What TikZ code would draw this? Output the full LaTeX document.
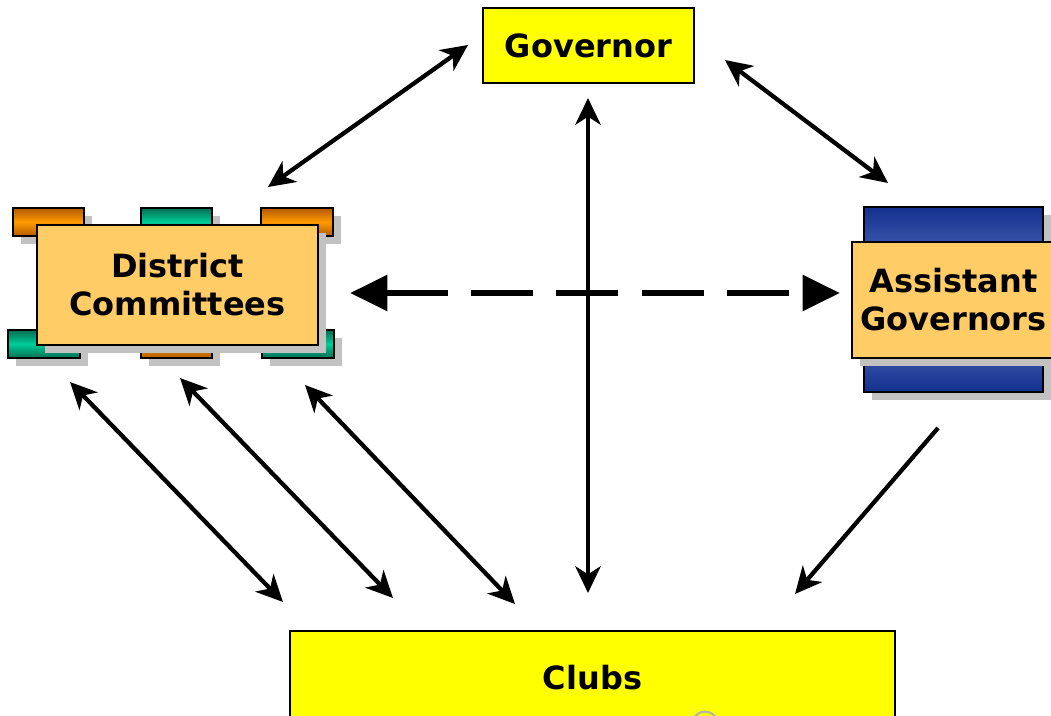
\documentclass[tikz,border=0pt]{standalone}
\usepackage{fontspec}
\setmainfont{DejaVu Sans}
\usetikzlibrary{arrows.meta,shadows}

\definecolor{govyellow}{HTML}{FFFF00}
\definecolor{boxorange}{HTML}{FFCC66}
\definecolor{tabdarkorange}{HTML}{B35A00}
\definecolor{tabbrightorange}{HTML}{FF9A00}
\definecolor{tabdarkgreen}{HTML}{006E52}
\definecolor{tabbrightgreen}{HTML}{00CC99}
\definecolor{agdarkblue}{HTML}{13308F}
\definecolor{aglightblue}{HTML}{7088CC}

\tikzset{
  boxlabel/.style={font=\bfseries\fontsize{24}{28.5}\selectfont, align=center, text=black, inner sep=0pt},
  shadowed/.style={drop shadow={shadow xshift=6pt, shadow yshift=-6pt, fill=black!24, opacity=1}},
  yellowbox/.style={boxlabel, draw=black, line width=0.9pt, fill=govyellow},
  orangebox/.style={boxlabel, draw=black, line width=1.2pt, fill=boxorange, shadowed},
  orangetab/.style={draw=black, line width=1.2pt, shadowed, top color=tabdarkorange, bottom color=tabdarkorange, middle color=tabbrightorange},
  greentab/.style={draw=black, line width=1.2pt, shadowed, top color=tabdarkgreen, bottom color=tabdarkgreen, middle color=tabbrightgreen},
  bluebox/.style={draw=black, line width=1.2pt, shadowed, top color=agdarkblue, bottom color=agdarkblue, middle color=aglightblue},
  link/.style={line width=3.2pt, {Stealth[length=20pt,width=19pt,inset=6pt]}-{Stealth[length=20pt,width=19pt,inset=6pt]}},
  onelink/.style={line width=3.2pt, -{Stealth[length=20pt,width=19pt,inset=6pt]}},
  dashlink/.style={line width=5pt, dash pattern=on 46.5pt off 17.5pt, {Triangle[length=28pt,width=26pt]}-{Triangle[length=28pt,width=26pt]}}
}

\begin{document}
\begin{tikzpicture}[x=0.75pt,y=-0.75pt]
\useasboundingbox (0,0) rectangle (1051,715);

% governor
\node[yellowbox, minimum width=158.25pt, minimum height=56.25pt] (gov) at (588.5,45.5) {Governor};

% district committees with tabs
\draw[orangetab] (13,208) rectangle (84,236);
\draw[greentab] (141,208) rectangle (212,236);
\draw[orangetab] (261,208) rectangle (333,236);
\draw[greentab] (8,330) rectangle (80,358);
\draw[orangetab] (141,330) rectangle (212,358);
\draw[greentab] (262,330) rectangle (334,358);
\node[orangebox, minimum width=210.75pt, minimum height=90pt] (dc) at (177.5,285) {District\\Committees};

% assistant governors
\draw[bluebox] (864,207) rectangle (1043,392);
\node[orangebox, minimum width=152.25pt, minimum height=87pt] (ag) at (953.5,300) {Assistant\\Governors};

% clubs
\node[yellowbox, minimum width=453.75pt, minimum height=70.5pt] (clubs) at (592.5,678) {Clubs};
\draw[black!30, line width=1.5pt] (705,725) circle[radius=10pt];

% arrow ends
\coordinate (govW) at (468,45);
\coordinate (dcN) at (268,187);
\coordinate (govE) at (725,60);
\coordinate (agN) at (888,183);
\coordinate (govS) at (588,98);
\coordinate (clubsN) at (588,593);
\coordinate (dcE) at (350,293);
\coordinate (agW) at (840,293);
\coordinate (agS) at (938,428);
\coordinate (clubsNE) at (795,594);

\draw[dashlink] (dcE) -- (agW);
\draw[link] (govW) -- (dcN);
\draw[link] (govE) -- (agN);
\draw[link] (govS) -- (clubsN);
\draw[onelink] (agS) -- (clubsNE);

\foreach \xa/\ya/\xb/\yb in {70/382/283/602, 180/378/393/598, 305/385/515/604}{
\draw[link] (\xa,\ya) -- (\xb,\yb);
}
\end{tikzpicture}
\end{document}
